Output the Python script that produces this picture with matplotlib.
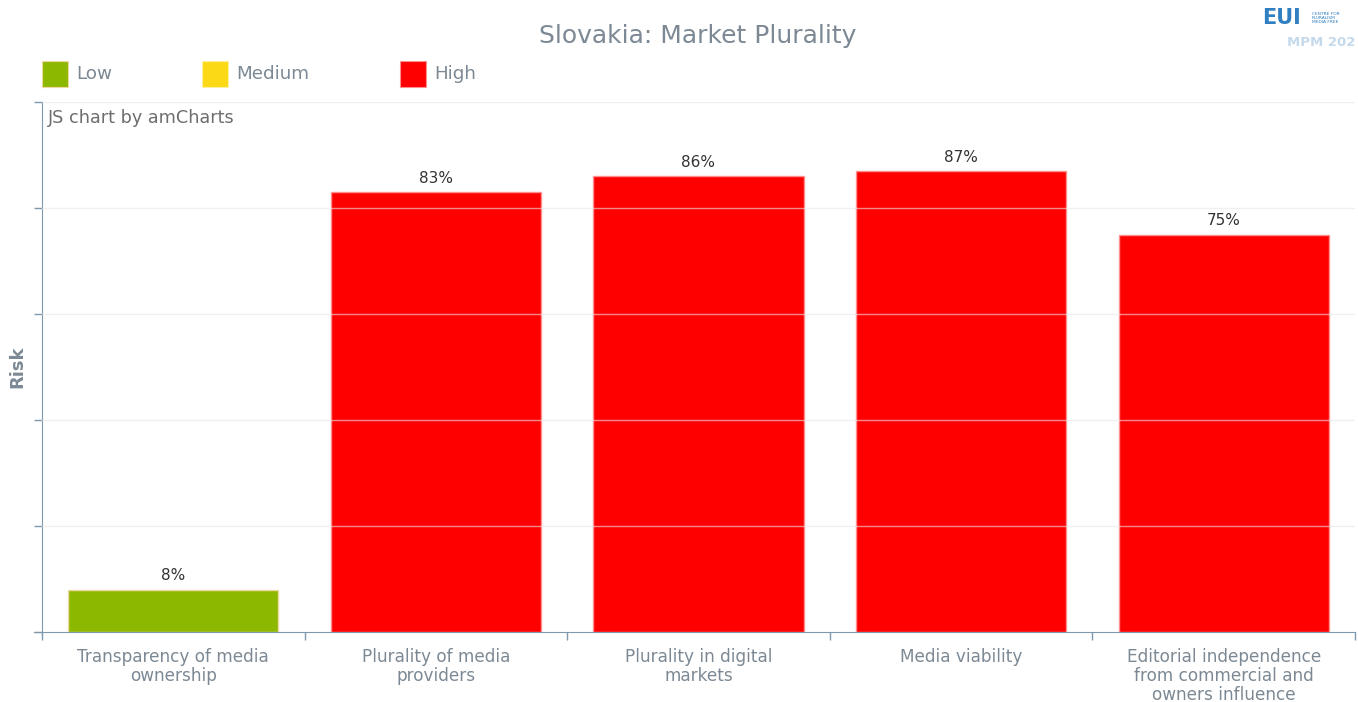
import numpy as np
import matplotlib.pyplot as plt
from matplotlib.patches import Rectangle

plt.rcParams['font.family'] = ['DejaVu Sans']

# chart data
categories = ['Transparency of media\nownership',
              'Plurality of media\nproviders',
              'Plurality in digital\nmarkets',
              'Media viability',
              'Editorial independence\nfrom commercial and\nowners influence']
risk = [8, 83, 86, 87, 75]
risk_level = ['Low', 'High', 'High', 'High', 'High']
legend_labels = ['Low', 'Medium', 'High']

colors = {'Low': '#8cb800', 'Medium': '#fcd917', 'High': '#ff0000'}
edges = {'Low': '#f0d9a0', 'Medium': '#fff0a0', 'High': '#ff9090'}
grey = '#7c8994'
axis_col = '#7f98ab'

W, H = 1358, 702
fig = plt.figure(figsize=(W / 100, H / 100), dpi=100)
ax = fig.add_axes([42 / W, 70 / H, 1313 / W, 530 / H])

x = np.arange(len(categories))
ax.bar(x, risk, width=0.8, color=[colors[r] for r in risk_level],
       edgecolor=[edges[r] for r in risk_level], linewidth=1, zorder=2)

for xi, v in zip(x, risk):
    ax.text(xi, v + 1.2, f'{v}%', ha='center', va='bottom', fontsize=11, color='#333333')

ax.set_xlim(-0.5, len(categories) - 0.5)
ax.set_ylim(0, 100)

# grid lines drawn over bars, as in amCharts
for g in range(20, 101, 20):
    ax.axhline(g, color='#e6e6e6', lw=1, alpha=0.6, zorder=3)

ax.set_yticks(np.arange(0, 101, 20))
ax.set_yticklabels([])
ax.tick_params(axis='y', length=6, width=1, color=axis_col, direction='out')

ax.set_xticks(np.arange(-0.5, len(categories), 1))
ax.set_xticklabels([])
ax.tick_params(axis='x', length=6, width=1, color=axis_col, direction='out')
for xi, c in zip(x, categories):
    ax.text(xi, -3.0, c, ha='center', va='top', fontsize=12.2, color=grey, linespacing=1.08)

for s in ['top', 'right']:
    ax.spines[s].set_visible(False)
ax.spines['left'].set_color(axis_col)
ax.spines['bottom'].set_color(axis_col)
ax.spines['bottom'].set_bounds(-0.5 - 8 / 262.6, len(categories) - 0.5)

fig.text(17 / W, 1 - 367 / H, 'Risk', rotation=90, ha='center', va='center',
         fontsize=13, fontweight='bold', color=grey)

ax.text(6 / 1313, 1 - 16 / 530, 'JS chart by amCharts', transform=ax.transAxes,
        fontsize=12.7, color='#6e6e6e', va='center', ha='left')

fig.text(698 / W, 1 - 36 / H, 'Slovakia: Market Plurality', ha='center', va='center',
         fontsize=18, color=grey)

# legend
leg_x = [42, 202, 400]
for lx, lab in zip(leg_x, legend_labels):
    fig.patches.append(Rectangle((lx / W, 1 - 87 / H), 26 / W, 26 / H, transform=fig.transFigure,
                                 facecolor=colors[lab], edgecolor=edges[lab], lw=0.8))
    fig.text((lx + 34) / W, 1 - 74 / H, lab, ha='left', va='center', fontsize=13.2, color=grey)

# logo
fig.text(1262 / W, 1 - 18 / H, 'EUI', ha='left', va='center', fontsize=15,
         fontweight='bold', color='#2f7fc1')
fig.text(1312 / W, 1 - 18 / H, 'CENTRE FOR\nPLURALISM\nMEDIA FREE', ha='left',
         va='center', fontsize=3.2, color='#2f7fc1', linespacing=1.0)
fig.text(1355 / W, 1 - 42 / H, 'MPM 202', ha='right', va='center', fontsize=9.5,
         fontweight='bold', color='#c5d9ec')

fig.savefig('out.png', dpi=100, facecolor='white')
